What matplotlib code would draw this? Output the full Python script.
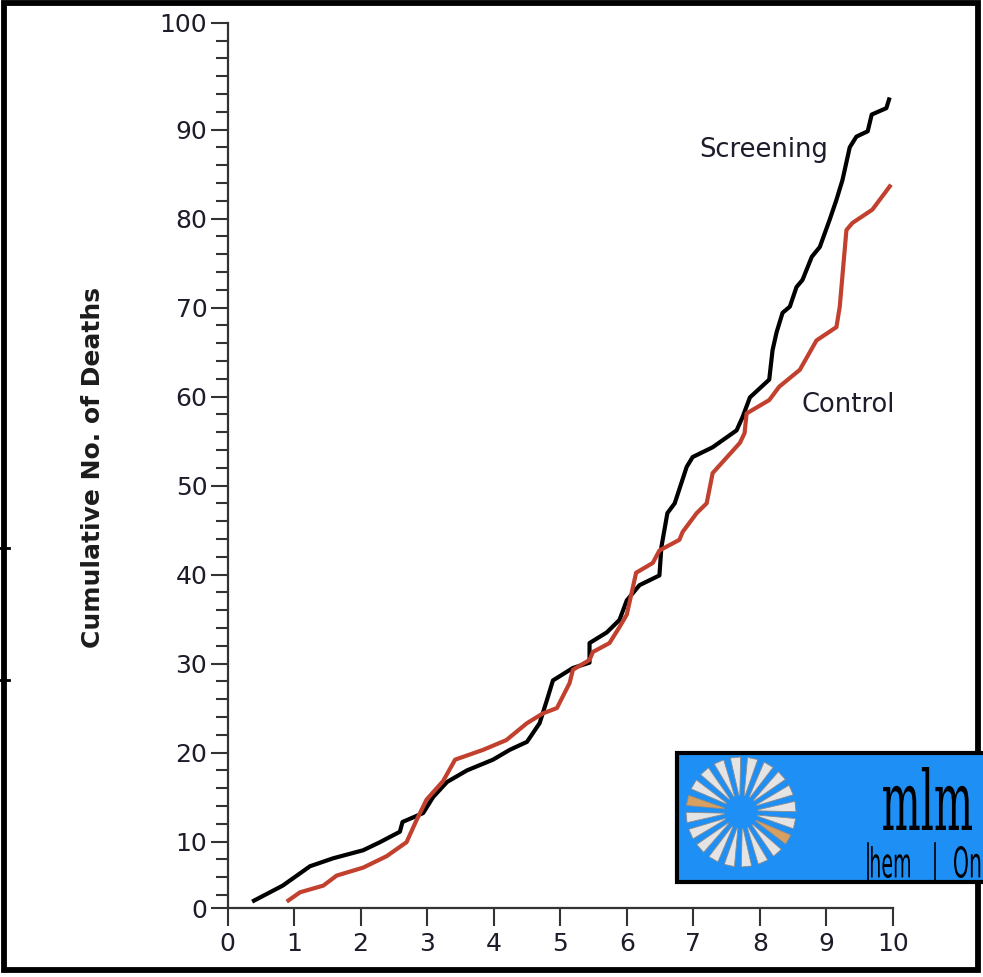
import numpy as np
import matplotlib
matplotlib.use("Agg")
import matplotlib.pyplot as plt
from matplotlib.patches import Rectangle, Polygon, PathPatch
from matplotlib.textpath import TextPath
from matplotlib.font_manager import FontProperties
from matplotlib.transforms import Affine2D
from matplotlib.lines import Line2D

# ---------------- data ----------------
screening_x = [0.37, 0.83, 1.24, 1.59, 2.04, 2.29, 2.59, 2.63, 2.94, 3.09, 3.30,
               3.60, 3.99, 4.24, 4.50, 4.69, 4.80, 4.89, 5.19, 5.44, 5.44, 5.70,
               5.89, 6.00, 6.19, 6.49, 6.52, 6.61, 6.72, 6.90, 6.99, 7.29, 7.65,
               7.74, 7.85, 8.14, 8.19, 8.25, 8.34, 8.45, 8.55, 8.64, 8.78, 8.90,
               9.05, 9.15, 9.24, 9.35, 9.45, 9.62, 9.68, 9.90, 9.95]
screening_y = [1.0, 3.4, 6.3, 7.5, 8.7, 9.9, 11.1, 12.2, 13.2, 15.0, 16.7,
               18.0, 19.2, 20.3, 21.2, 23.3, 25.9, 28.1, 29.5, 30.1, 32.3, 33.5,
               34.9, 37.1, 38.8, 39.9, 43.1, 46.9, 48.0, 52.1, 53.2, 54.3, 56.2,
               57.7, 59.9, 61.9, 65.2, 67.2, 69.4, 70.1, 72.3, 73.1, 75.7, 76.8,
               79.9, 82.1, 84.3, 88.0, 89.2, 89.8, 91.4, 92.0, 93.0]

control_x = [0.89, 1.09, 1.44, 1.64, 2.04, 2.39, 2.69, 2.84, 2.99, 3.24, 3.42,
             3.84, 4.19, 4.50, 4.74, 4.95, 5.14, 5.19, 5.44, 5.49, 5.74, 5.89,
             6.00, 6.14, 6.39, 6.49, 6.79, 6.84, 7.05, 7.20, 7.29, 7.70, 7.77,
             7.80, 8.14, 8.29, 8.60, 8.85, 9.15, 9.20, 9.30, 9.39, 9.69, 9.97]
control_y = [1.0, 2.4, 3.4, 4.9, 6.1, 7.8, 9.9, 12.4, 14.7, 16.8, 19.2,
             20.3, 21.4, 23.3, 24.4, 25.0, 27.8, 29.3, 30.4, 31.3, 32.3, 34.1,
             35.5, 40.2, 41.3, 42.7, 43.9, 44.8, 46.9, 48.0, 51.4, 54.8, 55.9,
             58.1, 59.6, 61.1, 63.0, 66.3, 67.8, 70.1, 78.7, 79.5, 81.0, 83.8]

x_ticks = list(range(0, 11))
y_ticks = list(range(0, 101, 10))

# ---------------- figure ----------------
W, H = 983, 977
fig = plt.figure(figsize=(W / 100, H / 100), dpi=100)
fig.patch.set_facecolor("white")

# The original axis is slightly compressed at 0-10 and stretched at 90-100
vk = np.array([0.0, 10.0, 90.0, 100.0])
uk = np.array([2.5, 10.0, 90.0, 102.0])


def fwd(v):
    v = np.asarray(v, dtype=float)
    out = np.interp(v, vk, uk)
    out = np.where(v < 0, 2.5 + 0.75 * v, out)
    out = np.where(v > 100, 102 + 1.2 * (v - 100), out)
    return out


def inv(u):
    u = np.asarray(u, dtype=float)
    out = np.interp(u, uk, vk)
    out = np.where(u < 2.5, (u - 2.5) / 0.75, out)
    out = np.where(u > 102, 100 + (u - 102) / 1.2, out)
    return out


x0, x10 = 227.5, 893.0
y0, y100 = 908.3, 22.7
ax = fig.add_axes([x0 / W, 1 - y0 / H, (x10 - x0) / W, (y0 - y100) / H])
ax.set_yscale("function", functions=(fwd, inv))
ax.set_xlim(0, 10)
ax.set_ylim(0, 100)

ax.plot(screening_x, screening_y, color="black", lw=3.0, solid_joinstyle="round",
        solid_capstyle="butt", clip_on=False, zorder=3)
ax.plot(control_x, control_y, color="#c2402e", lw=3.0, solid_joinstyle="round",
        solid_capstyle="butt", clip_on=False, zorder=3)

for s in ["top", "right"]:
    ax.spines[s].set_visible(False)
for s in ["left", "bottom"]:
    ax.spines[s].set_linewidth(1.6)
    ax.spines[s].set_color("#333333")

ax.set_xticks(x_ticks)
ax.set_yticks(y_ticks)
minor_u = [4, 6, 8] + [u for u in range(12, 90, 2) if u % 10] + [92, 94, 96, 98, 100]
ax.set_yticks(inv(np.array(minor_u, dtype=float)), minor=True)
ax.tick_params(axis="both", which="major", width=1.5, color="#333333",
               labelsize=18, labelcolor="#1c1c2a")
ax.tick_params(axis="y", which="major", length=12.5, pad=2)
ax.tick_params(axis="x", which="major", length=13, pad=4)
ax.tick_params(axis="y", which="minor", length=8.5, width=1.5, color="#333333")
ax.tick_params(axis="x", which="minor", length=0)

ax.text(7.09, 87.7, "Screening", fontsize=18.5, color="#1c1c2a",
        ha="left", va="center")
ax.text(8.63, 59.1, "Control", fontsize=18.5, color="#1c1c2a",
        ha="left", va="center")

fig.text(93 / W, 1 - 467 / H, "Cumulative No. of Deaths", rotation=90,
         fontsize=18, fontweight="bold", color="#1c1c1c", ha="center", va="center")

# pixel transform (origin bottom-left)
T = Affine2D().scale(0.01) + fig.dpi_scale_trans


def P(x, y):
    return (x, H - y)


# outer frame
fig.add_artist(Rectangle(P(4, 970), 974, 967, transform=T, fill=False,
                         lw=4.2, ec="black", zorder=4))
# stray marks on the left edge
for yy in (548, 680):
    fig.add_artist(Line2D([0, 9], [H - yy, H - yy], transform=T, color="black",
                          lw=2, zorder=4))

# logo box
fig.add_artist(Rectangle(P(677, 882), 340, 129, transform=T, fc="#1e8ff5",
                         ec="black", lw=3, zorder=6))
cx, cy = 741, 812
n = 20
for i in range(n):
    a = 2 * np.pi * i / n + 0.1
    r_in, r_out, hw_in, hw = 17, 55, 0.03, 0.095
    pts = [P(cx + r_in * np.cos(a - hw_in), cy - r_in * np.sin(a - hw_in)),
           P(cx + r_out * np.cos(a - hw), cy - r_out * np.sin(a - hw)),
           P(cx + r_out * np.cos(a + hw), cy - r_out * np.sin(a + hw)),
           P(cx + r_in * np.cos(a + hw_in), cy - r_in * np.sin(a + hw_in))]
    fc = "#e4e4e4"
    if i in (9, 18):
        fc = "#d8a060"
    fig.add_artist(Polygon(pts, closed=True, transform=T, fc=fc, ec="#8a8a8a",
                           lw=0.6, zorder=7))


def draw_text_box(s, x1, y1, x2, y2, family="DejaVu Serif"):
    tp = TextPath((0, 0), s, size=10, prop=FontProperties(family=family))
    bb = tp.get_extents()
    sx = (x2 - x1) / bb.width
    sy = (y2 - y1) / bb.height
    tr = Affine2D().translate(-bb.x0, -bb.y0).scale(sx, sy).translate(x1, H - y2) + T
    fig.add_artist(PathPatch(tp, transform=tr, fc="black", ec="none", zorder=8))


draw_text_box("mlm", 883, 767, 972, 830)
draw_text_box("hem", 871, 846, 910, 878, family="DejaVu Sans")
draw_text_box("Onc", 954, 846, 992, 878, family="DejaVu Sans")
for xx, ytop in ((868, 843), (935, 843)):
    fig.add_artist(Line2D([xx, xx], [H - ytop, H - 880], transform=T,
                          color="black", lw=1.2, zorder=8))

fig.savefig("out.png", dpi=100, facecolor="white")
